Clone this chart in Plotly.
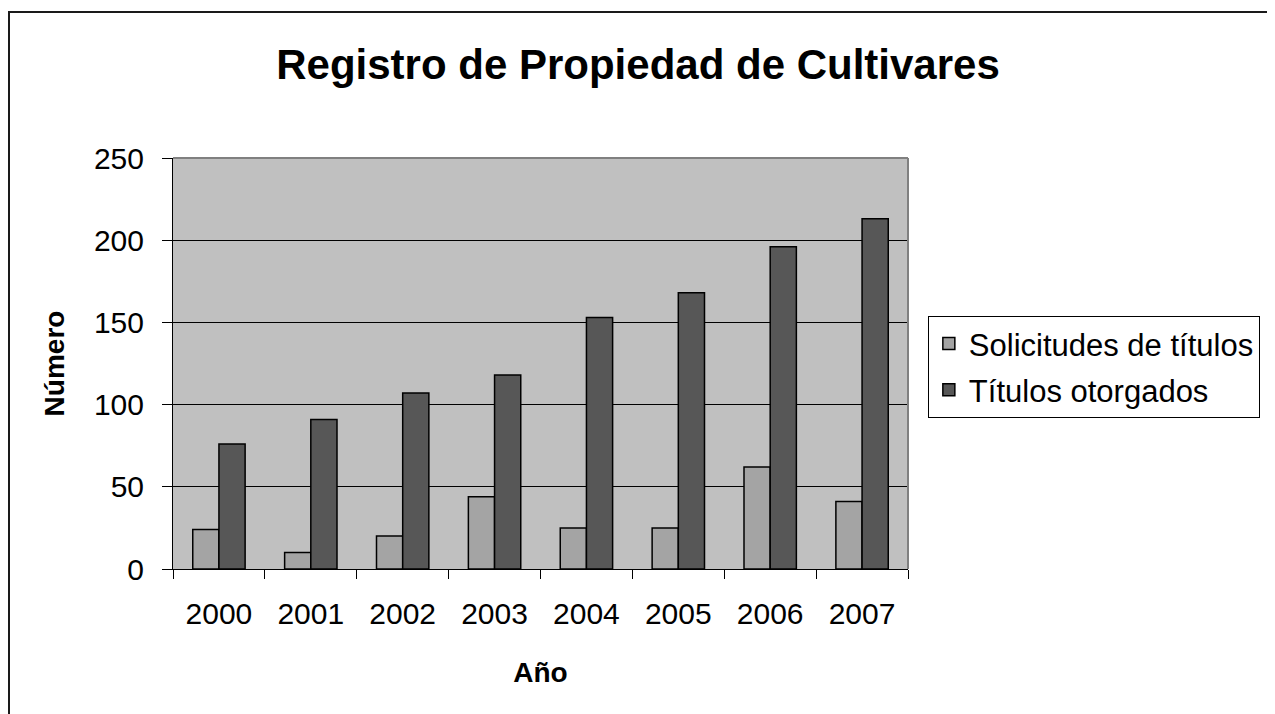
import plotly.graph_objects as go

years = ['2000', '2001', '2002', '2003', '2004', '2005', '2006', '2007']
solicitudes = [24, 10, 20, 44, 25, 25, 62, 41]
otorgados = [76, 91, 107, 118, 153, 168, 196, 213]

font_family = 'Arial, Liberation Sans, sans-serif'

fig = go.Figure()
fig.add_trace(go.Bar(x=years, y=solicitudes, name='Solicitudes de títulos',
                     legendgroup='a',
                     marker_color='#A4A4A4',
                     marker_line_color='#000000', marker_line_width=1.5))
fig.add_trace(go.Bar(x=years, y=otorgados, name='Títulos otorgados',
                     legendgroup='b',
                     marker_color='#575757',
                     marker_line_color='#000000', marker_line_width=1.5))

# the page body adds an 8px offset, so margins are shifted to compensate
fig.update_layout(
    width=1275, height=714,
    margin=dict(l=165, r=375, t=150, b=153, autoexpand=False),
    paper_bgcolor='white',
    plot_bgcolor='#C0C0C0',
    font=dict(family=font_family, size=30, color='black'),
    title=dict(text='<b>Registro de Propiedad de Cultivares</b>',
               x=(638 - 8) / 1275, xref='container', xanchor='center',
               y=1 - 56 / 714, yref='container', yanchor='middle',
               font=dict(size=42)),
    barmode='group', bargap=0.43, bargroupgap=0,
    showlegend=True,
    legend=dict(x=1.027, y=0.616, xanchor='left', yanchor='top',
                bordercolor='black', borderwidth=1, bgcolor='white',
                font=dict(size=31), traceorder='grouped',
                tracegroupgap=3),
)

fig.update_xaxes(
    type='category',
    showline=True, linecolor='black', linewidth=1,
    ticks='outside', ticklen=9, tickcolor='black', tickson='boundaries',
    ticklabelstandoff=18,
    showgrid=False,
    title=dict(text='<b>Año</b>', font=dict(size=28), standoff=33),
)
fig.update_yaxes(
    range=[0, 250], dtick=50,
    showline=True, linecolor='black', linewidth=1,
    ticks='outside', ticklen=10, tickcolor='black',
    ticklabelstandoff=12,
    showgrid=True, gridcolor='black', gridwidth=1,
    zeroline=False,
    title=dict(text='<b>Número</b>', font=dict(size=28), standoff=21),
)

# gray border on the top and right of the plot area
fig.add_shape(type='line', xref='paper', yref='paper', x0=0, x1=1, y0=1, y1=1,
              line=dict(color='#808080', width=2))
fig.add_shape(type='line', xref='paper', yref='paper', x0=1, x1=1, y0=0, y1=1,
              line=dict(color='#808080', width=2))

# outer chart border
fig.add_shape(type='rect', xref='paper', yref='paper',
              x0=-164 / 735, x1=1096 / 735, y0=-160 / 411, y1=557 / 411,
              line=dict(color='#1a1a1a', width=2), fillcolor='rgba(0,0,0,0)')

fig.write_html('out.html')
